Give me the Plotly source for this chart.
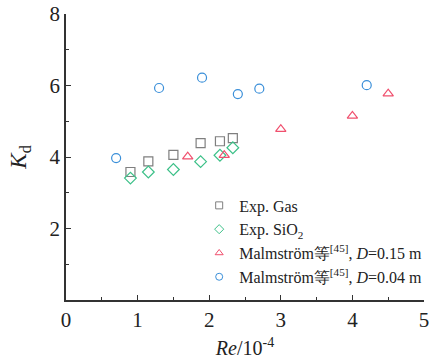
import plotly.graph_objects as go

gas_x = [0.90, 1.15, 1.50, 1.88, 2.15, 2.33]
gas_y = [3.58, 3.88, 4.06, 4.39, 4.44, 4.53]
sio2_x = [0.90, 1.15, 1.50, 1.88, 2.15, 2.33]
sio2_y = [3.41, 3.58, 3.65, 3.87, 4.05, 4.26]
m15_x = [1.70, 2.21, 3.00, 4.00, 4.50]
m15_y = [4.01, 4.05, 4.78, 5.15, 5.77]
m04_x = [0.70, 1.30, 1.90, 2.40, 2.70, 4.20]
m04_y = [3.97, 5.93, 6.22, 5.76, 5.91, 6.01]

FONT = "Liberation Serif"
fig = go.Figure()
series = [
    (gas_x, gas_y, "Exp. Gas", "square-open", "#7f7f7f"),
    (sio2_x, sio2_y, "Exp. SiO<sub>2</sub>", "diamond-open", "#3cc088"),
    (m15_x, m15_y, "Malmström等<sup>[45]</sup>, <i>D</i>=0.15 m", "triangle-up-open", "#f0506e"),
    (m04_x, m04_y, "Malmström等<sup>[45]</sup>, <i>D</i>=0.04 m", "circle-open", "#3a8fd9"),
]
for x, y, name, sym, col in series:
    fig.add_trace(go.Scatter(x=x, y=y, mode="markers", name=name, showlegend=False,
                             marker=dict(symbol=sym, size=9, color=col, line=dict(width=1.2, color=col))))
    # legend-only entry with the smaller marker used in the reference legend
    fig.add_trace(go.Scatter(x=[None], y=[None], mode="markers", name=name,
                             marker=dict(symbol=sym, size=7, color=col, line=dict(width=1, color=col))))

axis_common = dict(showline=True, linecolor="#333333", linewidth=1.5, ticks="inside", ticklen=5,
                   tickwidth=1.2, tickcolor="#333333", showgrid=False, zeroline=False,
                   ticklabeloverflow="allow",
                   tickfont=dict(family=FONT, size=21, color="#222222"))
fig.update_xaxes(range=[0, 5], tickvals=[0, 1, 2, 3, 4, 5],
                 minor=dict(tickvals=[0.5, 1.5, 2.5, 3.5, 4.5], ticks="inside", ticklen=3, tickcolor="#333333"),
                 title=dict(text="<i>Re</i>/10<sup>-4</sup>", font=dict(family=FONT, size=20, color="#222222"), standoff=10),
                 **axis_common)
fig.update_yaxes(range=[0, 8], tickvals=[2, 4, 6, 8],
                 minor=dict(tickvals=[1, 3, 5, 7], ticks="inside", ticklen=3, tickcolor="#333333"),
                 title=dict(text="<i>K</i><sub>d</sub>", font=dict(family=FONT, size=23, color="#222222"), standoff=16),
                 **axis_common)
fig.update_layout(width=429, height=362, margin=dict(l=66, r=5, t=14, b=62, autoexpand=False),
                  plot_bgcolor="white", paper_bgcolor="white",
                  legend=dict(x=0.372, y=0.39, xanchor="left", yanchor="top", bgcolor="rgba(0,0,0,0)",
                              font=dict(family=FONT, size=16, color="#222222"), itemwidth=30,
                              tracegroupgap=0, itemsizing="trace"))
fig.write_html("out.html")
